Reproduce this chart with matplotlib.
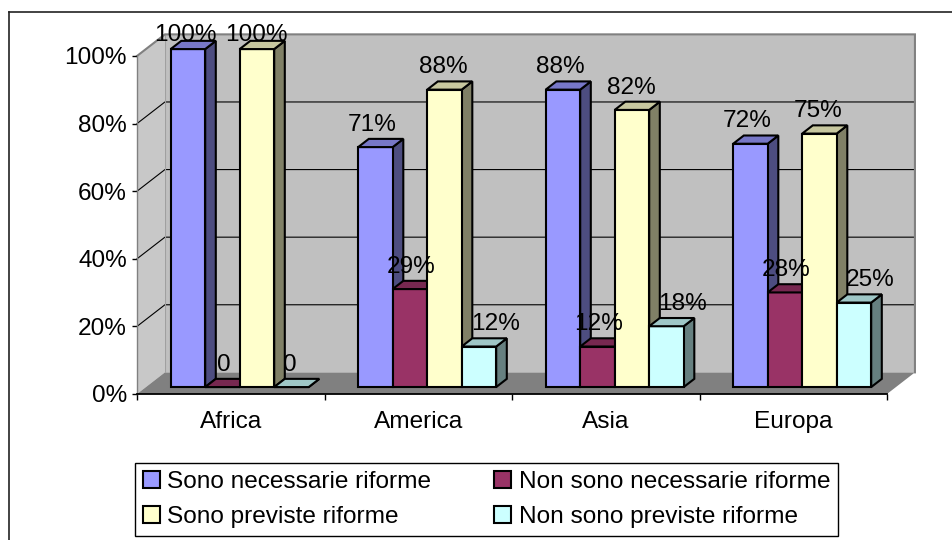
import matplotlib
matplotlib.use('agg')
import matplotlib.pyplot as plt
from matplotlib.patches import Polygon, Patch
from matplotlib.lines import Line2D
from matplotlib.colors import to_rgb

regions = ['Africa', 'America', 'Asia', 'Europa']
series = ['Sono necessarie riforme', 'Non sono necessarie riforme',
          'Sono previste riforme', 'Non sono previste riforme']
necessarie = [100, 71, 88, 72]
non_necessarie = [0, 29, 12, 28]
previste = [100, 88, 82, 75]
non_previste = [0, 12, 18, 25]
y_ticks = [0, 20, 40, 60, 80, 100]

values = [necessarie, non_necessarie, previste, non_previste]
colors = ['#9999FF', '#993366', '#FFFFCC', '#CCFFFF']

plt.rcParams['font.family'] = ['Liberation Sans', 'DejaVu Sans']
FS = 17.6

# oblique "3d" look: depth offset of the floor in data units
DX, DY = 0.149, 6.4
D0, D1 = 0.32, 0.70      # depth range occupied by the columns
BAR_W = 0.184
PX_X = 187.5             # pixels per category unit
PX_Y = 3.375             # pixels per percent


def shade(c, k):
    r, g, b = to_rgb(c)
    return (r * k, g * k, b * k)


def p(x, y, d):
    return (x + d * DX, y + d * DY)


fig = plt.figure(figsize=(9.52, 5.4), dpi=100)
ax = fig.add_axes([137 / 952, 146 / 540, 750 / 952, 338 / 540])
ax.set_xlim(0, len(regions))
ax.set_ylim(0, 100)
ax.patch.set_visible(False)

n = len(regions)

# walls and floor
ax.add_patch(Polygon([p(0, 0, 0), p(0, 0, 1), p(0, 100, 1), p(0, 100, 0)],
                     closed=True, facecolor='#C8C8C8', edgecolor='none',
                     zorder=0.5, clip_on=False))
ax.add_patch(Polygon([p(0, 0, 1), p(n, 0, 1), p(n, 100, 1), p(0, 100, 1)],
                     closed=True, facecolor='#C0C0C0', edgecolor='none',
                     zorder=0.5, clip_on=False))
ax.add_patch(Polygon([p(0, 0, 0), p(n, 0, 0), p(n, 0, 1), p(0, 0, 1)],
                     closed=True, facecolor='#808080', edgecolor='none',
                     zorder=0.6, clip_on=False))

for v in y_ticks[1:-1]:
    pts = [p(0, v, 0), p(0, v, 1), p(n, v, 1)]
    ax.plot([q[0] for q in pts], [q[1] for q in pts], color='black',
            lw=0.8, zorder=0.8, clip_on=False)

ax.plot([p(0, 0, 1)[0]] * 2, [p(0, 0, 1)[1], p(0, 100, 1)[1]],
        color='#A0A0A0', lw=0.8, zorder=0.8, clip_on=False)
edge = [p(0, 100, 0), p(0, 100, 1), p(n, 100, 1), p(n, 0, 1)]
ax.plot([q[0] for q in edge], [q[1] for q in edge], color='#808080',
        lw=1.5, zorder=0.9, clip_on=False, solid_joinstyle='miter')

# columns, drawn left to right so nearer faces cover the sides
label_dx = [6, 10, 8, 1]
label_ha = ['center', 'center', 'center', 'left']
for i in range(n):
    for j, vals in enumerate(values):
        v = vals[i]
        x0 = i + 0.5 - 2 * BAR_W + j * BAR_W
        x1 = x0 + BAR_W
        c = colors[j]
        front = [p(x0, 0, D0), p(x1, 0, D0), p(x1, v, D0), p(x0, v, D0)]
        side = [p(x1, 0, D0), p(x1, 0, D1), p(x1, v, D1), p(x1, v, D0)]
        top = [p(x0, v, D0), p(x1, v, D0), p(x1, v, D1), p(x0, v, D1)]
        for poly, col in [(side, shade(c, 0.5)), (front, c),
                          (top, shade(c, 0.78))]:
            ax.add_patch(Polygon(poly, closed=True, facecolor=col,
                                 edgecolor='black', lw=1.5, zorder=3,
                                 joinstyle='miter', clip_on=False))
        lx = (x0 + x1) / 2 + label_dx[j] / PX_X
        ly = min(v + D1 * DY + 2.4, 104.3)
        ax.text(lx, ly, f'{v}%' if v else '0', ha=label_ha[j],
                va='baseline', fontsize=FS, color='black', zorder=6,
                clip_on=False)

# axes
for s in ['top', 'right']:
    ax.spines[s].set_visible(False)
ax.spines['left'].set_color('#808080')
ax.spines['left'].set_linewidth(1.0)
ax.spines['bottom'].set_color('black')
ax.spines['bottom'].set_linewidth(1.3)

ax.set_yticks(y_ticks)
ax.set_yticklabels([f'{t}%' for t in y_ticks])
ax.tick_params(axis='y', length=3.6, width=1, pad=3.6, labelsize=FS,
               color='black')
ax.set_xticks([i + 0.5 for i in range(n)])
ax.set_xticklabels(regions)
ax.set_xticks(range(n + 1), minor=True)
ax.tick_params(axis='x', which='major', length=0, pad=12, labelsize=FS)
ax.tick_params(axis='x', which='minor', length=4.6, width=1, color='black')

# legend, filled column by column
order = [0, 2, 1, 3]
handles = [Patch(facecolor=colors[k], edgecolor='black', lw=1.5)
           for k in order]
fig.legend(handles, [series[k] for k in order], loc='upper left',
           bbox_to_anchor=(135 / 952, 1 - 463 / 540), ncol=2,
           fontsize=FS, frameon=True, fancybox=False, shadow=False,
           edgecolor='black', framealpha=1, handlelength=0.7,
           handleheight=0.7, handletextpad=0.29, columnspacing=2.58,
           borderpad=0.33, labelspacing=0.53, borderaxespad=0)

# outer chart border
fig.add_artist(Line2D([9 / 952, 1], [1 - 12 / 540] * 2,
                      transform=fig.transFigure, color='#222222', lw=1.2))
fig.add_artist(Line2D([9 / 952, 9 / 952], [0, 1 - 12 / 540],
                      transform=fig.transFigure, color='#222222', lw=1.2))

fig.savefig('out.png', dpi=100)
